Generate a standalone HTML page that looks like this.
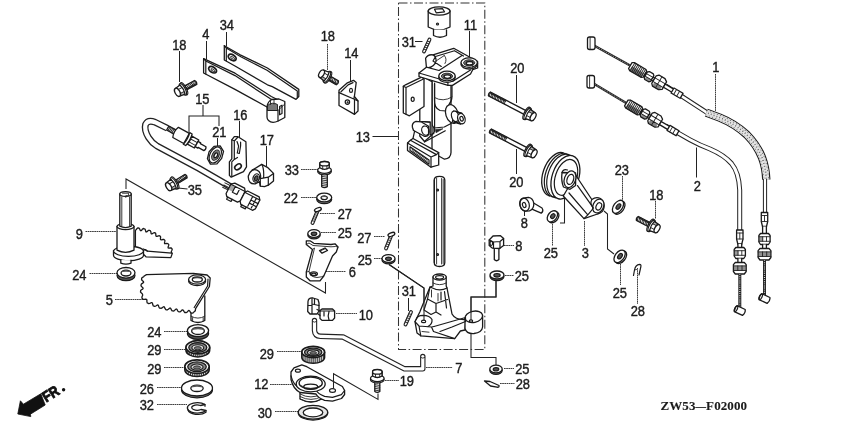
<!DOCTYPE html>
<html><head><meta charset="utf-8"><title>diagram</title>
<style>
html,body{margin:0;padding:0;background:#fff;}
body{width:850px;height:424px;overflow:hidden;}
svg{display:block;filter:blur(0.3px);}
text{font-family:"Liberation Sans",sans-serif;fill:#1c1c1c;stroke:#1c1c1c;stroke-width:0.4;}
.p{fill:#fff;stroke:#1a1a1a;stroke-width:1.3;stroke-linejoin:round;stroke-linecap:round;}
.pd{fill:#555;stroke:#1a1a1a;stroke-width:1.2;}
.n{fill:none;stroke:#1a1a1a;stroke-width:1.2;stroke-linejoin:round;stroke-linecap:round;}
.t{fill:none;stroke:#222;stroke-width:0.9;stroke-linecap:round;}
.ld{fill:none;stroke:#222;stroke-width:1.05;}
.dd{fill:none;stroke:#333;stroke-width:1.05;stroke-dasharray:9 2.5 1.5 2.5;}
.ds{fill:none;stroke:#333;stroke-width:0.95;stroke-dasharray:1.7 0.5;}
.k{fill:#222;stroke:#222;stroke-width:0.6;}
.g{fill:#777;stroke:#1a1a1a;stroke-width:0.9;}
</style></head><body>
<svg width="850" height="424" viewBox="0 0 850 424">
<rect width="850" height="424" fill="#fff"/>
<text transform="translate(172.2 49.5) scale(0.92 1)" font-size="14">18</text>
<text transform="translate(202.2 39) scale(0.92 1)" font-size="14">4</text>
<text transform="translate(219.7 30) scale(0.92 1)" font-size="14">34</text>
<text transform="translate(195.2 103.5) scale(0.92 1)" font-size="14">15</text>
<text transform="translate(233.2 119.5) scale(0.92 1)" font-size="14">16</text>
<text transform="translate(212.2 136.5) scale(0.92 1)" font-size="14">21</text>
<text transform="translate(259.7 145) scale(0.92 1)" font-size="14">17</text>
<text transform="translate(187.7 194.5) scale(0.92 1)" font-size="14">35</text>
<text transform="translate(284.7 175) scale(0.92 1)" font-size="14">33</text>
<text transform="translate(283.7 203) scale(0.92 1)" font-size="14">22</text>
<text transform="translate(75.7 239) scale(0.92 1)" font-size="14">9</text>
<text transform="translate(72.2 279.5) scale(0.92 1)" font-size="14">24</text>
<text transform="translate(105.7 305) scale(0.92 1)" font-size="14">5</text>
<text transform="translate(147.2 337) scale(0.92 1)" font-size="14">24</text>
<text transform="translate(147.2 355) scale(0.92 1)" font-size="14">29</text>
<text transform="translate(147.2 373.5) scale(0.92 1)" font-size="14">29</text>
<text transform="translate(139.7 393.5) scale(0.92 1)" font-size="14">26</text>
<text transform="translate(139.7 410) scale(0.92 1)" font-size="14">32</text>
<text transform="translate(259.7 358.5) scale(0.92 1)" font-size="14">29</text>
<text transform="translate(254.2 388.5) scale(0.92 1)" font-size="14">12</text>
<text transform="translate(257.7 418) scale(0.92 1)" font-size="14">30</text>
<text transform="translate(399.7 386) scale(0.92 1)" font-size="14">19</text>
<text transform="translate(337.7 218.5) scale(0.92 1)" font-size="14">27</text>
<text transform="translate(337.7 237.5) scale(0.92 1)" font-size="14">25</text>
<text transform="translate(348.7 277) scale(0.92 1)" font-size="14">6</text>
<text transform="translate(357.2 242.5) scale(0.92 1)" font-size="14">27</text>
<text transform="translate(357.7 264.5) scale(0.92 1)" font-size="14">25</text>
<text transform="translate(401.7 296) scale(0.92 1)" font-size="14">31</text>
<text transform="translate(358.7 320) scale(0.92 1)" font-size="14">10</text>
<text transform="translate(320.7 41) scale(0.92 1)" font-size="14">18</text>
<text transform="translate(344.2 58) scale(0.92 1)" font-size="14">14</text>
<text transform="translate(401.7 47) scale(0.92 1)" font-size="14">31</text>
<text transform="translate(463.7 30) scale(0.92 1)" font-size="14">11</text>
<text transform="translate(510.2 73.2) scale(0.92 1)" font-size="14">20</text>
<text transform="translate(355.7 142) scale(0.92 1)" font-size="14">13</text>
<text transform="translate(509.2 187) scale(0.92 1)" font-size="14">20</text>
<text transform="translate(515.2 251) scale(0.92 1)" font-size="14">8</text>
<text transform="translate(514.7 280.5) scale(0.92 1)" font-size="14">25</text>
<text transform="translate(543.7 258) scale(0.92 1)" font-size="14">25</text>
<text transform="translate(455.2 373) scale(0.92 1)" font-size="14">7</text>
<text transform="translate(515.2 373.5) scale(0.92 1)" font-size="14">25</text>
<text transform="translate(515.7 389) scale(0.92 1)" font-size="14">28</text>
<text transform="translate(614.7 175) scale(0.92 1)" font-size="14">23</text>
<text transform="translate(520.7 227.5) scale(0.92 1)" font-size="14">8</text>
<text transform="translate(581.7 257.5) scale(0.92 1)" font-size="14">3</text>
<text transform="translate(649.2 199.5) scale(0.92 1)" font-size="14">18</text>
<text transform="translate(612.7 297.5) scale(0.92 1)" font-size="14">25</text>
<text transform="translate(630.7 316) scale(0.92 1)" font-size="14">28</text>
<text transform="translate(712.2 72) scale(0.92 1)" font-size="14">1</text>
<text transform="translate(693.7 191) scale(0.92 1)" font-size="14">2</text>
<text x="660.5" y="409.9" font-size="13" textLength="86.5" lengthAdjust="spacing" style="font-family:'Liberation Serif',serif;font-weight:bold;stroke-width:0.1">ZW53<tspan font-size="10.5">&#8212;</tspan>F02000</text>
<path class="ld" d="M179.5 51L179.5 82"/>
<path class="ld" d="M206.5 41L206.5 59.5"/>
<path class="ld" d="M226.5 32L226.5 46.5"/>
<path class="ld" d="M203 105V116M189 132V116H219V126"/>
<path class="ld" d="M217.5 138L217.5 146"/>
<path class="ld" d="M239.5 121L239.5 140"/>
<path class="ld" d="M266.5 146L266.5 166.8"/>
<path class="ld" d="M178 188L187.5 189"/>
<path class="ds" d="M301 169.5L319 169.5"/>
<path class="ds" d="M301 197.5L317.5 197.5"/>
<path class="ds" d="M85.5 231.5L116 231.5"/>
<path class="ds" d="M89.5 273.5L117.5 273.5"/>
<path class="ds" d="M115 299.5L146 299.5"/>
<path class="ds" d="M164 331.5L187.5 331.5"/>
<path class="ds" d="M164 349.5L186 349.5"/>
<path class="ds" d="M164 367.5L185 367.5"/>
<path class="ds" d="M157 387.5L181 387.5"/>
<path class="ds" d="M157 404.5L187 404.5"/>
<path class="ds" d="M277 351.5L301 351.5"/>
<path class="ds" d="M270 384.5L295 384.5"/>
<path class="ds" d="M275 411.5L298 411.5"/>
<path class="ds" d="M385 380.5L399 380.5"/>
<path class="ds" d="M320 213.5L335 213.5"/>
<path class="ds" d="M321 232.5L336 232.5"/>
<path class="ds" d="M326 271.5L346 271.5"/>
<path class="ds" d="M374 236.5L385 236.5"/>
<path class="ds" d="M374 258.5L382 258.5"/>
<path class="ld" d="M408.5 298L408.5 311"/>
<path class="ds" d="M336 313.5L357 313.5"/>
<path class="ds" d="M327.5 44L327.5 70"/>
<path class="ld" d="M350.5 60L350.5 81.5"/>
<path class="ld" d="M415 41.5L422.5 41.5"/>
<path class="ld" d="M469.5 31L469.5 59"/>
<path class="ld" d="M516.5 75L516.5 103"/>
<path class="ld" d="M372.5 136.5L398 136.5"/>
<path class="ld" d="M516.5 149L516.5 174"/>
<path class="ds" d="M504 245.5L514 245.5"/>
<path class="ds" d="M505 275.5L514 275.5"/>
<path class="ds" d="M552.5 224L552.5 246"/>
<path class="ds" d="M426 367.5L452.5 367.5"/>
<path class="ds" d="M504 368.5L514 368.5"/>
<path class="ds" d="M500 383.5L514.5 383.5"/>
<path class="ds" d="M622.5 176L622.5 200"/>
<path class="ld" d="M524.5 210.5L524.5 216"/>
<path class="ds" d="M584.5 221L584.5 246"/>
<path class="ds" d="M655.5 201L655.5 219"/>
<path class="ds" d="M620.5 264L620.5 285"/>
<path class="ds" d="M637.5 268L637.5 304"/>
<path class="ds" d="M715.5 74L715.5 111"/>
<path class="ld" d="M696.5 147.5L696.5 177.5"/>
<path class="ld" d="M126 189V179L325.5 293V282"/>
<path class="ld" d="M389 264.5L424 288V321"/>
<path class="ld" d="M496 280V297H471V320"/>
<path class="ld" d="M471 333V357.5H496V365.5"/>
<path class="ld" d="M564.5 195V223H560"/>
<path class="ld" d="M604 211L607.5 214V249L614 254"/>
<path class="dd" d="M398.5 3H484.8V349.5H398.5Z"/>
<g transform="translate(184.5 88.5) rotate(-28.6)"><path class="p" d="M0 -2.2L12.7 -2.2Q14.3 0 12.7 2.2L0 2.2Z"/><path class="t" d="M11.7 -2.2L12.9 2.2M10.0 -2.2L11.2 2.2M8.3 -2.2L9.5 2.2M6.6 -2.2L7.8 2.2M4.9 -2.2L6.1 2.2M3.2 -2.2L4.4 2.2M1.5 -2.2L2.7 2.2"/><path d="M0.0 1.3000000000000003H12.3" stroke="#222" stroke-width="1.3" fill="none"/><ellipse class="p" cx="-0.6" cy="0" rx="2.3" ry="6.75"/><ellipse class="p" cx="-1.8" cy="0" rx="2.3" ry="6.45"/><path class="p" d="M-2.2 -5.25L-8 -4.45Q-10.6 0 -8 4.45L-2.2 5.25Q-0.6 0 -2.2 -5.25Z"/><ellipse class="p" cx="-8" cy="0" rx="2.4" ry="4.45"/><path class="t" d="M-2 -2.019230769230769L-6.2 -2.019230769230769M-2 2.3863636363636362L-6 2.3863636363636362"/><path d="M-2.2 2.3863636363636362L-6.5 2.3863636363636362L-8 4.45L-2.2 5.25Z" fill="#222" opacity="0.35"/></g>
<g transform="translate(175.5 182.5) rotate(-31.4)"><path class="p" d="M0 -2.0L12.2 -2.0Q13.8 0 12.2 2.0L0 2.0Z"/><path class="t" d="M11.2 -2.0L12.4 2.0M9.5 -2.0L10.7 2.0M7.8 -2.0L9.0 2.0M6.1 -2.0L7.3 2.0M4.4 -2.0L5.6 2.0M2.7 -2.0L3.9 2.0M1.0 -2.0L2.2 2.0"/><path d="M0 1.1H11.8" stroke="#222" stroke-width="1.3" fill="none"/><ellipse class="p" cx="-0.6" cy="0" rx="2.3" ry="6.75"/><ellipse class="p" cx="-1.8" cy="0" rx="2.3" ry="6.45"/><path class="p" d="M-2.2 -5.25L-8 -4.45Q-10.6 0 -8 4.45L-2.2 5.25Q-0.6 0 -2.2 -5.25Z"/><ellipse class="p" cx="-8" cy="0" rx="2.4" ry="4.45"/><path class="t" d="M-2 -2.019230769230769L-6.2 -2.019230769230769M-2 2.3863636363636362L-6 2.3863636363636362"/><path d="M-2.2 2.3863636363636362L-6.5 2.3863636363636362L-8 4.45L-2.2 5.25Z" fill="#222" opacity="0.35"/></g>
<g transform="translate(328.5 77.7) rotate(30)"><path class="p" d="M0 -2.2L10.2 -2.2Q11.8 0 10.2 2.2L0 2.2Z"/><path class="t" d="M9.2 -2.2L10.4 2.2M7.5 -2.2L8.7 2.2M5.8 -2.2L7.0 2.2M4.1 -2.2L5.3 2.2M2.4 -2.2L3.6 2.2M0.7 -2.2L1.9 2.2"/><path d="M0 1.3000000000000003H9.8" stroke="#222" stroke-width="1.3" fill="none"/><ellipse class="p" cx="-0.6" cy="0" rx="2.3" ry="6.5"/><ellipse class="p" cx="-1.8" cy="0" rx="2.3" ry="6.2"/><path class="p" d="M-2.2 -5.0L-8 -4.2Q-10.6 0 -8 4.2L-2.2 5.0Q-0.6 0 -2.2 -5.0Z"/><ellipse class="p" cx="-8" cy="0" rx="2.4" ry="4.2"/><path class="t" d="M-2 -1.923076923076923L-6.2 -1.923076923076923M-2 2.2727272727272725L-6 2.2727272727272725"/><path d="M-2.2 2.2727272727272725L-6.5 2.2727272727272725L-8 4.2L-2.2 5.0Z" fill="#222" opacity="0.35"/></g>
<g transform="translate(650 225) rotate(207.4)"><path class="p" d="M0 -2.2L14.2 -2.2Q15.8 0 14.2 2.2L0 2.2Z"/><path class="t" d="M13.2 -2.2L14.4 2.2M11.5 -2.2L12.7 2.2M9.8 -2.2L11.0 2.2M8.1 -2.2L9.3 2.2M6.4 -2.2L7.6 2.2M4.7 -2.2L5.9 2.2M3.0 -2.2L4.2 2.2M1.3 -2.2L2.5 2.2"/><path d="M0 1.3000000000000003H13.8" stroke="#222" stroke-width="1.3" fill="none"/><ellipse class="p" cx="-0.6" cy="0" rx="2.3" ry="6.75"/><ellipse class="p" cx="-1.8" cy="0" rx="2.3" ry="6.45"/><path class="p" d="M-2.2 -5.25L-8 -4.45Q-10.6 0 -8 4.45L-2.2 5.25Q-0.6 0 -2.2 -5.25Z"/><ellipse class="p" cx="-8" cy="0" rx="2.4" ry="4.45"/><path class="t" d="M-2 -2.019230769230769L-6.2 -2.019230769230769M-2 2.3863636363636362L-6 2.3863636363636362"/><path d="M-2.2 2.3863636363636362L-6.5 2.3863636363636362L-8 4.45L-2.2 5.25Z" fill="#222" opacity="0.35"/></g>
<g transform="translate(526 113) rotate(207.5)"><path class="p" d="M0 -2.1L41.2 -2.1Q42.8 0 41.2 2.1L0 2.1Z"/><path class="t" d="M40.2 -2.1L41.4 2.1M38.5 -2.1L39.7 2.1M36.8 -2.1L38.0 2.1M35.1 -2.1L36.3 2.1M33.4 -2.1L34.6 2.1M31.7 -2.1L32.9 2.1M30.0 -2.1L31.2 2.1M28.3 -2.1L29.5 2.1M26.6 -2.1L27.8 2.1M24.9 -2.1L26.1 2.1M23.2 -2.1L24.4 2.1"/><path d="M23 1.2000000000000002H40.8" stroke="#222" stroke-width="1.3" fill="none"/><ellipse class="p" cx="-0.6" cy="0" rx="2.3" ry="6.75"/><ellipse class="p" cx="-1.8" cy="0" rx="2.3" ry="6.45"/><path class="p" d="M-2.2 -5.25L-8 -4.45Q-10.6 0 -8 4.45L-2.2 5.25Q-0.6 0 -2.2 -5.25Z"/><ellipse class="p" cx="-8" cy="0" rx="2.4" ry="4.45"/><path class="t" d="M-2 -2.019230769230769L-6.2 -2.019230769230769M-2 2.3863636363636362L-6 2.3863636363636362"/><path d="M-2.2 2.3863636363636362L-6.5 2.3863636363636362L-8 4.45L-2.2 5.25Z" fill="#222" opacity="0.35"/></g>
<g transform="translate(527 150) rotate(207.5)"><path class="p" d="M0 -2.1L41.2 -2.1Q42.8 0 41.2 2.1L0 2.1Z"/><path class="t" d="M40.2 -2.1L41.4 2.1M38.5 -2.1L39.7 2.1M36.8 -2.1L38.0 2.1M35.1 -2.1L36.3 2.1M33.4 -2.1L34.6 2.1M31.7 -2.1L32.9 2.1M30.0 -2.1L31.2 2.1M28.3 -2.1L29.5 2.1M26.6 -2.1L27.8 2.1M24.9 -2.1L26.1 2.1M23.2 -2.1L24.4 2.1"/><path d="M23 1.2000000000000002H40.8" stroke="#222" stroke-width="1.3" fill="none"/><ellipse class="p" cx="-0.6" cy="0" rx="2.3" ry="6.75"/><ellipse class="p" cx="-1.8" cy="0" rx="2.3" ry="6.45"/><path class="p" d="M-2.2 -5.25L-8 -4.45Q-10.6 0 -8 4.45L-2.2 5.25Q-0.6 0 -2.2 -5.25Z"/><ellipse class="p" cx="-8" cy="0" rx="2.4" ry="4.45"/><path class="t" d="M-2 -2.019230769230769L-6.2 -2.019230769230769M-2 2.3863636363636362L-6 2.3863636363636362"/><path d="M-2.2 2.3863636363636362L-6.5 2.3863636363636362L-8 4.45L-2.2 5.25Z" fill="#222" opacity="0.35"/></g>
<path class="p" d="M319.8 163.5V167.8Q324.5 170.8 329.2 167.8V163.5"/>
<ellipse class="p" cx="324.5" cy="163.5" rx="4.7" ry="2.2"/>
<path class="t" d="M322.7 165.60000000000002V169.3M326.9 165.3V168.9"/>
<path class="p" d="M321.7 172.8V186.8Q324.5 188.4 327.3 186.8V172.8"/>
<path class="t" d="M321.7 185.4L327.3 186.2M321.7 183.6L327.3 184.4M321.7 181.8L327.3 182.6M321.7 180.0L327.3 180.8M321.7 178.2L327.3 179.0M321.7 176.4L327.3 177.2"/>
<ellipse class="p" cx="324.5" cy="171.5" rx="6.8" ry="3.3"/>
<ellipse class="p" cx="324.5" cy="170.10000000000002" rx="6.8" ry="3.3"/>
<path class="p" d="M319.8 167.8Q324.5 170.8 329.2 167.8V164.3H319.8Z"/>
<path class="t" d="M322.7 165.60000000000002V169.3M326.9 165.3V168.9"/>
<ellipse class="p" cx="324.5" cy="163.70000000000002" rx="4.7" ry="2.2"/>
<path class="p" d="M372.6 371.7V376.0Q377.3 379.0 382.0 376.0V371.7"/>
<ellipse class="p" cx="377.3" cy="371.7" rx="4.7" ry="2.2"/>
<path class="t" d="M375.5 373.8V377.5M379.7 373.5V377.1"/>
<path class="p" d="M374.8 381.0V391.5Q377.3 393.1 379.8 391.5V381.0"/>
<path class="t" d="M374.8 390.1L379.8 390.9M374.8 388.3L379.8 389.1M374.8 386.5L379.8 387.3M374.8 384.7L379.8 385.5"/>
<ellipse class="p" cx="377.3" cy="379.7" rx="6.8" ry="3.3"/>
<ellipse class="p" cx="377.3" cy="378.3" rx="6.8" ry="3.3"/>
<path class="p" d="M372.6 376.0Q377.3 379.0 382.0 376.0V372.5H372.6Z"/>
<path class="t" d="M375.5 373.8V377.5M379.7 373.5V377.1"/>
<ellipse class="p" cx="377.3" cy="371.9" rx="4.7" ry="2.2"/>
<g transform="translate(126 272.8) rotate(0)"><ellipse cx="0" cy="2.6" rx="9" ry="5.3" fill="#555" stroke="#1a1a1a" stroke-width="1.2"/><ellipse class="p" cx="0" cy="0" rx="9" ry="5.3"/><ellipse class="p" cx="0" cy="0.3" rx="4.95" ry="2.915"/><path d="M-4.95 0.3A4.95 2.915 0 0 1 4.95 0.3A4.95 1.31175 0 0 0 -4.95 0.3Z" fill="#555"/></g>
<g transform="translate(198 330.6) rotate(0)"><ellipse cx="0" cy="2.8" rx="10.6" ry="6" fill="#555" stroke="#1a1a1a" stroke-width="1.2"/><ellipse class="p" cx="0" cy="0" rx="10.6" ry="6"/><ellipse class="p" cx="0" cy="0.3" rx="6.359999999999999" ry="3.5999999999999996"/><path d="M-6.359999999999999 0.3A6.359999999999999 3.5999999999999996 0 0 1 6.359999999999999 0.3A6.359999999999999 1.6199999999999999 0 0 0 -6.359999999999999 0.3Z" fill="#555"/></g>
<g transform="translate(197 388) rotate(0)"><ellipse cx="0" cy="1.8" rx="15.5" ry="8" fill="#777" stroke="#1a1a1a" stroke-width="1.2"/><ellipse class="p" cx="0" cy="0" rx="15.5" ry="8"/><ellipse class="p" cx="0" cy="0.3" rx="6.2" ry="3.2"/><path d="M-6.2 0.3A6.2 3.2 0 0 1 6.2 0.3A6.2 1.4400000000000002 0 0 0 -6.2 0.3Z" fill="#555"/></g>
<g transform="translate(324.2 197.5) rotate(0)"><ellipse cx="0" cy="1.8" rx="7.5" ry="4.4" fill="#777" stroke="#1a1a1a" stroke-width="1.2"/><ellipse class="p" cx="0" cy="0" rx="7.5" ry="4.4"/><ellipse class="p" cx="0" cy="0.3" rx="3.15" ry="1.848"/><path d="M-3.15 0.3A3.15 1.848 0 0 1 3.15 0.3A3.15 0.8316 0 0 0 -3.15 0.3Z" fill="#555"/></g>
<g transform="translate(314 233.5) rotate(0)"><ellipse cx="0" cy="1.6" rx="6.2" ry="3.8" fill="#777" stroke="#1a1a1a" stroke-width="1.2"/><ellipse class="p" cx="0" cy="0" rx="6.2" ry="3.8"/><ellipse class="pd" cx="0" cy="0.3" rx="2.79" ry="1.71"/></g>
<g transform="translate(388.5 258.5) rotate(0)"><ellipse cx="0" cy="1.6" rx="6.5" ry="3.8" fill="#777" stroke="#1a1a1a" stroke-width="1.2"/><ellipse class="p" cx="0" cy="0" rx="6.5" ry="3.8"/><ellipse class="pd" cx="0" cy="0.3" rx="2.9250000000000003" ry="1.71"/></g>
<g transform="translate(497 275) rotate(0)"><ellipse cx="0" cy="1.6" rx="7" ry="4" fill="#777" stroke="#1a1a1a" stroke-width="1.2"/><ellipse class="p" cx="0" cy="0" rx="7" ry="4"/><ellipse class="pd" cx="0" cy="0.3" rx="3.15" ry="1.8"/></g>
<g transform="translate(496 369) rotate(0)"><ellipse cx="0" cy="1.6" rx="6.2" ry="3.8" fill="#777" stroke="#1a1a1a" stroke-width="1.2"/><ellipse class="p" cx="0" cy="0" rx="6.2" ry="3.8"/><ellipse class="pd" cx="0" cy="0.3" rx="2.79" ry="1.71"/></g>
<g transform="translate(197.8 347.3)"><path d="M-11.9 0V3A11.9 6.6 0 0 0 11.9 3V0" fill="#ddd" stroke="#1a1a1a" stroke-width="1.5"/><path class="t" d="M-10.6 3.8V5.7M-8.5 5.4V7.3M-6.4 6.4V8.3M-4.2 7.0V8.9M-2.1 7.3V9.2M0.0 7.4V9.3M2.1 7.3V9.2M4.2 7.0V8.9M6.4 6.4V8.3M8.5 5.4V7.3M10.6 3.8V5.7"/><ellipse cx="0" cy="0" rx="11.9" ry="6.6" fill="#fff" stroke="#1a1a1a" stroke-width="1.7"/><ellipse cx="0" cy="0.2" rx="9.044" ry="4.752" fill="#8a8a8a" stroke="#1a1a1a" stroke-width="1.3"/><ellipse cx="0" cy="0.5" rx="5.95" ry="3.036" fill="#ddd" stroke="#1a1a1a" stroke-width="1.1"/><ellipse cx="0" cy="0.9" rx="3.57" ry="1.5839999999999999" fill="#777" stroke="#1a1a1a" stroke-width="0.8"/></g>
<g transform="translate(197 366.6)"><path d="M-12.2 0V3.2A12.2 6.8 0 0 0 12.2 3.2V0" fill="#ddd" stroke="#1a1a1a" stroke-width="1.5"/><path class="t" d="M-10.9 3.9V6.0M-8.7 5.6V7.7M-6.5 6.5V8.6M-4.4 7.2V9.3M-2.2 7.5V9.6M0.0 7.6V9.7M2.2 7.5V9.6M4.4 7.2V9.3M6.5 6.5V8.6M8.7 5.6V7.7M10.9 3.9V6.0"/><ellipse cx="0" cy="0" rx="12.2" ry="6.8" fill="#fff" stroke="#1a1a1a" stroke-width="1.7"/><ellipse cx="0" cy="0.2" rx="9.272" ry="4.896" fill="#8a8a8a" stroke="#1a1a1a" stroke-width="1.3"/><ellipse cx="0" cy="0.5" rx="6.1" ry="3.128" fill="#ddd" stroke="#1a1a1a" stroke-width="1.1"/><ellipse cx="0" cy="0.9" rx="3.6599999999999997" ry="1.632" fill="#777" stroke="#1a1a1a" stroke-width="0.8"/></g>
<g transform="translate(313.2 352)"><path d="M-11.4 0V5.6A11.4 5.6 0 0 0 11.4 5.6V0" fill="#ddd" stroke="#1a1a1a" stroke-width="1.5"/><path class="t" d="M-10.2 3.3V7.8M-8.1 4.7V9.2M-6.1 5.5V10.0M-4.1 6.0V10.5M-2.0 6.3V10.8M0.0 6.4V10.9M2.0 6.3V10.8M4.1 6.0V10.5M6.1 5.5V10.0M8.1 4.7V9.2M10.2 3.3V7.8"/><ellipse cx="0" cy="0" rx="11.4" ry="5.6" fill="#fff" stroke="#1a1a1a" stroke-width="1.7"/><ellipse cx="0" cy="0.2" rx="8.664" ry="4.032" fill="#8a8a8a" stroke="#1a1a1a" stroke-width="1.3"/><ellipse cx="0" cy="0.5" rx="5.7" ry="2.576" fill="#ddd" stroke="#1a1a1a" stroke-width="1.1"/><ellipse cx="0" cy="0.9" rx="3.42" ry="1.3439999999999999" fill="#777" stroke="#1a1a1a" stroke-width="0.8"/></g>
<path class="p" d="M205 404.5A10 5.2 0 1 0 206 410.5L201 409.5A5.5 2.6 0 1 1 200.5 405.5Z"/>
<path class="n" d="M205 404.5L205 406.3M206 410.5V412.3A10 5.2 0 0 1 188 410"/>
<ellipse class="p" cx="313" cy="413" rx="14.7" ry="7.1"/>
<ellipse cx="313" cy="412.2" rx="14.7" ry="6.9" fill="#e6e6e6" stroke="#1a1a1a" stroke-width="1.3"/>
<ellipse class="p" cx="313" cy="412.4" rx="9.8" ry="4.4"/>
<path class="p" d="M135.4 247L135.4 230.2L135.4 230.2L136.1 229.8L136.9 228.7L137.7 227.9L138.4 228.0L139.1 228.1L139.7 229.0L140.2 230.2L140.9 230.8L141.6 230.4L142.4 229.2L143.2 228.5L144.3 228.8L145.0 229.0L145.4 230.0L145.7 231.3L146.2 232.0L147.0 231.7L148.0 230.8L148.9 230.2L149.6 230.5L150.2 230.7L150.9 231.8L151.0 233.1L151.4 233.9L152.2 233.8L153.4 233.0L154.3 232.6L155.0 232.9L155.6 233.2L155.8 234.2L155.9 235.6L156.3 236.4L157.1 236.4L158.4 235.9L159.4 235.7L160.0 236.1L160.5 236.5L160.6 237.6L160.4 238.9L160.7 239.7L161.5 239.8L162.9 239.5L163.9 239.4L164.4 239.9L164.9 240.4L164.8 241.4L164.5 242.8L164.6 243.6L165.4 243.7L166.9 243.5L167.9 243.6L168.4 244.1L168.8 244.7L168.6 245.7L168.1 247.0L168.1 247.8L168.9 248.1L170.3 247.9L171.4 248.0L171.8 248.6L172.2 249.2L171.9 250.2L171.3 251.5L171.3 252.3L172.3 253.4L170.8 257.6L146 256.8L141 252Z"/>
<path class="n" d="M171.8 253.2L147.4 251.2L143.5 249"/>
<path class="p" d="M113.5 250.8V255.2A15 5.6 0 0 0 143.5 255.2V250.8"/>
<path class="p" d="M113.5 250.8A15 5.6 0 0 0 143.5 250.8A15 5.6 0 0 0 134 246.5L117 248A15 5.6 0 0 0 113.5 250.8Z"/>
<path class="n" d="M143.5 250.8Q145 248 147.4 251.2"/>
<path class="p" d="M120.8 260V263.2Q126 265.2 131 263.2V260.2"/>
<path class="p" d="M117 226.5V250.2Q125.5 254.6 134 250.2V226.5"/>
<ellipse class="p" cx="125.5" cy="226.5" rx="8.5" ry="3.1"/>
<path class="p" d="M119.8 194V226.2Q125.5 229 131.2 226.2V194"/>
<ellipse class="p" cx="125.5" cy="194" rx="5.7" ry="2.4"/>
<path class="t" d="M122.5 193.2H128.6V195.7H125.8V197.4"/>
<path class="t" d="M121.8 197V226M129.6 197V226"/>
<path class="p" d="M191 300V320.5Q198 324.5 204.8 320.5V296"/>
<path class="t" d="M191 316.2Q198 320.2 204.8 316.2"/>
<path class="t" d="M192.6 317.6V321.3M203.2 317.6V321.3"/>
<path class="p" d="M146.5 274.6L144.2 276.0L143.7 276.7L142.5 277.4L141.7 278.1L141.6 278.9L141.6 279.7L142.3 280.5L143.3 281.4L143.7 282.2L143.1 282.9L142.0 283.6L141.2 284.3L141.1 285.1L141.0 285.8L141.7 286.7L142.7 287.5L143.1 288.3L142.6 289.1L141.5 289.7L140.6 290.4L140.6 291.2L140.5 292.0L141.2 292.8L142.2 293.7L142.6 294.5L142.6 294.5L142.6 295.4L142.0 296.8L141.9 298.0L142.5 298.7L143.1 299.4L144.3 299.4L145.7 299.2L146.6 299.3L146.9 300.2L146.9 301.6L147.2 302.8L148.0 303.2L148.7 303.6L149.8 303.4L151.1 302.7L152.0 302.7L152.5 303.4L152.8 304.8L153.3 305.9L154.0 306.1L154.8 306.4L155.8 306.0L157.0 305.2L157.9 305.0L158.5 305.7L158.9 307.0L159.4 308.0L160.2 308.2L161.0 308.4L162.0 307.9L163.1 307.0L164.0 306.7L164.6 307.4L165.1 308.7L165.8 309.6L166.5 309.8L167.3 309.9L168.3 309.3L169.3 308.4L170.1 308.0L170.8 308.6L171.4 309.9L172.1 310.8L172.9 310.9L173.7 311.1L174.6 310.4L175.5 309.4L176.4 309.0L177.1 309.6L177.7 310.9L178.5 311.7L179.2 311.8L180.0 311.9L180.9 311.3L181.8 310.2L182.7 309.8L183.4 310.4L184.1 311.6L184.8 312.5L185.6 312.5L186.4 312.6L187.3 311.9L188.2 310.8L189.0 310.4L189.7 311.0L190.4 312.2L191.2 313.0L192.0 313.1L192.8 313.1L193.6 312.4L194.5 311.3L195.3 310.9L195.6 308.7L209.4 286.5L210.2 278L207.1 275L193.3 273.4Z"/>
<path class="n" d="M208 279L207.6 286L194.2 307.5"/>
<ellipse class="p" cx="197.1" cy="281" rx="8.5" ry="4.6"/>
<ellipse class="p" cx="197.1" cy="279.5" rx="8.5" ry="4.6"/>
<ellipse class="p" cx="197.3" cy="279.5" rx="5" ry="2.5"/>
<path d="M192.3 279.5A5 2.5 0 0 1 202.3 279.5A5 1.2 0 0 0 192.3 279.5Z" fill="#444"/>
<path class="p" d="M224.3 45.7L240.2 54.8L267.4 68L298.8 89.4V96.5L296 99.4L277.8 89.6Q272 86 267.4 84.8L235 66L224.3 60Z"/>
<path class="n" d="M226.3 48L240.8 56.8L267 70.2L297.3 91V97.8M224.3 45.7L226.3 48V60.8"/>
<ellipse cx="232.2" cy="57.5" rx="4.3" ry="2.7" transform="rotate(32 232.2 57.5)" fill="#fff" stroke="#1a1a1a" stroke-width="1.8"/>
<ellipse class="t" cx="232.6" cy="57.9" rx="2.3" ry="0.9" transform="rotate(32 232.6 57.9)"/>
<path class="p" d="M203.6 58.6L235 73.2L271.3 96.5L284.3 103L267 107L235 89.4L203.6 73Z"/>
<path class="n" d="M205.8 61L235 75.6L270 98.6L279 103.5M203.6 58.6L205.8 61V74"/>
<ellipse cx="212.6" cy="69.7" rx="4.3" ry="2.7" transform="rotate(32 212.6 69.7)" fill="#fff" stroke="#1a1a1a" stroke-width="1.8"/>
<ellipse class="t" cx="213" cy="70.1" rx="2.3" ry="0.9" transform="rotate(32 213 70.1)"/>
<path class="p" d="M267 106.5Q268 101 272 99.5L279 99L284.8 101.5V117.5L278.2 121Q272 124 268.5 120.5Q267 119 267 117Z"/>
<path class="n" d="M267.5 110.5H278V121"/>
<path class="t" d="M278 110.5L284.8 104"/>
<path class="g" d="M267.5 105.5Q272 101.5 277.5 104.5V110.5H267.5Z"/>
<path class="n" d="M279.6 106.5L282 105.2V113.5L279.6 114.8Z"/>
<path class="t" d="M270.5 104.5V100.8M274 104V100"/>
<path class="p" d="M339 90.2L347.4 82.8L353.5 80.3L356.2 82.5L354.4 96.5L358 101V111L354.5 114.4L339 105.5Z"/>
<path class="n" d="M339 92.6L353.8 99L358 101M354.5 99.5V114.2M341 91.8L348.1 84.9L353 82.6M353.8 99L354.4 96.5"/>
<circle class="n" cx="347.4" cy="102.1" r="2.2"/>
<circle class="k" cx="347.6" cy="102.3" r="0.8"/>
<ellipse class="n" cx="351" cy="90.4" rx="1.5" ry="2"/>
<path class="p" d="M231.8 139.8L234.3 136.7L238 136.7L245.9 141.7L246.5 166.8L243.5 171.7L231.2 177.2L229.4 175.4V161.9L231.8 158.8Z"/>
<path class="n" d="M231.8 139.8L234.3 141V159.4L231.8 161.9V176.2M234.3 141L237.5 137.5M234.3 159.4L237.5 157.5"/>
<path class="n" d="M237 141.5L238.6 146L237.3 153L239.3 153.5L240.6 146L240.6 142.2"/>
<ellipse cx="238" cy="166.8" rx="3.6" ry="2.4" transform="rotate(-35 238 166.8)" fill="#fff" stroke="#1a1a1a" stroke-width="1.6"/>
<path class="p" d="M248.3 176Q249.5 172 252.3 170.1L261.7 164.4L267.4 167.3L273.5 173.4V181L268.3 185.2L264.5 186.6L260.3 186.1L259.5 181.6L255.1 183.8Q251.5 184 250.2 182.5Q248 180 248.3 176Z"/>
<path class="n" d="M261.7 164.4Q264.2 168 263.6 177.8M260.3 178.6L268.3 177.2L273.5 173.4M268.3 177.2V185.2M260.3 178.6V186.1M252.3 170.1Q256 168.5 259 171.5Q261.5 174.5 260.3 178.6"/>
<ellipse class="n" cx="256.2" cy="178" rx="3.1" ry="4.3" transform="rotate(20 256.2 178)"/>
<ellipse class="pd" cx="256.2" cy="178.3" rx="1.6" ry="2.6" transform="rotate(20 256.2 178.3)"/>
<path d="M167.5 128.3L155 122.2Q148 119.5 145.5 124.5Q144 130 148.5 137.5Q151.5 142.5 157 146L199 168.5L231 187" fill="none" stroke="#222" stroke-width="6.8" stroke-linecap="butt" stroke-linejoin="round"/>
<path d="M167.5 128.3L155 122.2Q148 119.5 145.5 124.5Q144 130 148.5 137.5Q151.5 142.5 157 146L199 168.5L231 187" fill="none" stroke="#fff" stroke-width="4.2" stroke-linecap="butt" stroke-linejoin="round"/>
<g transform="translate(169.5 129) rotate(29)"><path class="p" d="M-2 -2.3H6V2.3H-2Z"/><path class="t" d="M-0.5 -2.3V2.3M1 -2.3V2.3M2.5 -2.3V2.3M4 -2.3V2.3"/><path class="p" d="M7 -5.8H19.5V5.8H7Q4.5 0 7 -5.8Z"/><path class="p" d="M19.5 -6.6H22.2Q24 0 22.2 6.6H19.5Q21.2 0 19.5 -6.6Z"/><path class="p" d="M23 -4.6H31V4.6H23Q24 0 23 -4.6Z"/><path class="t" d="M23.3 -1.5H31M23.3 1.8H31"/><path class="p" d="M31 -3H34V-2.2H40.5Q42 0 40.5 2.2H34V3H31Z"/></g>
<g transform="translate(215.3 155) rotate(-62)"><path class="p" d="M-10.3 0L-7 -5.2L0 -7L7 -5.2L10.3 0L7 5.6L0 7.2L-7 5.6Z"/><ellipse class="n" cx="0" cy="0" rx="8.6" ry="5.3"/><ellipse class="g" cx="0" cy="0.3" rx="5.6" ry="3.3"/><ellipse class="p" cx="0" cy="0.6" rx="2.6" ry="1.5"/></g>
<g transform="translate(229.3 187.3) rotate(27)"><path class="t" d="M-6 -2H0.5M-6 0.5H0.5M-6 3H0.5"/><path class="p" d="M0 -3.5L3 -6.2H14L16 -3.5V7L14 9.5H2L0 7Z"/><path class="n" d="M0 -3.5H16M3 9.5V11.8H8V9.5M5 -3.5V3H10V-3.5"/><path d="M0.5 -3H5V2.5H0.5Z" fill="#222" opacity="0.4"/><path class="p" d="M16 -2.5L18 -5H31L33 -2.5V7.5L31 10H18L16 7.5Z"/><path class="n" d="M16 -2.5H33M25 -2.5V8.5M29 -2.5V8.5M19 10V12H24V10M25 1.5H33M25 5H33"/></g>
<path class="p" d="M306.3 240.8L310 240.8L313.8 243.3L331 244.5L335 243.8L338 247L336.3 252L332.5 256L323.8 276L320 280.8H310L306.3 277V272L312.5 249.5L306.3 244.5Z"/>
<path class="t" d="M306.3 244.5L309 243L313 245.5L331 246.8L335.5 246.5L338 247M312.5 249.5L314.5 248L309 271.5L306.3 272M309 271.5Q310 277 317 277.5Q322 277 323.8 276"/>
<path class="p" d="M319.5 250.5L325 248L327.5 250.5L322 253.2Z"/>
<path class="t" d="M320.5 250.8L325 248.8"/>
<ellipse class="p" cx="313.8" cy="273.8" rx="3.6" ry="2"/>
<ellipse class="n" cx="313.8" cy="274.2" rx="2.3" ry="1.1"/>
<path class="p" d="M308 301.5Q308.5 297.5 313 298L318 299.5L319 303V311L317 314H310L307.7 311.5Z"/>
<path class="n" d="M312 298.5V313.5M308.3 305.5H312M312 304L319 305.5M314.5 299V303.5"/>
<path class="p" d="M320 310.5L322 309H332.5L334.6 311V318L332.5 320.4H322L320 318.5Z"/>
<path class="n" d="M320 311H334M329 311.5Q327.5 315.5 329 320M324 312V316"/>
<path class="n" d="M317 309.5L320 311M317.5 313.5L320 315.5"/>
<path d="M314.5 320.5V330.5Q314.8 336 320.5 336.3L343 337L404.5 368.8H422.8V356.5" fill="none" stroke="#222" stroke-width="5.4" stroke-linecap="round" stroke-linejoin="round"/>
<path d="M314.5 320.5V330.5Q314.8 336 320.5 336.3L343 337L404.5 368.8H422.8V356.5" fill="none" stroke="#fff" stroke-width="3.2" stroke-linecap="round" stroke-linejoin="round"/>
<path class="t" d="M312.5 321.5Q314.5 323 316.5 321.5M420.8 357.5Q422.8 359 424.8 357.5"/>
<path class="p" d="M300 391V399Q311 405 321.8 399V391Z"/>
<path class="t" d="M300 394Q311 400 321.8 394M300 396.5Q311 402.5 321.8 396.5M300 399Q311 405 321.8 399"/>
<path class="p" d="M291 372L294 367.8L301.8 364.8L306.8 366.7L342.4 386.5L344.6 390.5V394.5L341.5 398.5L332.5 401.2L324.6 400.4Q318 398 316 394L300 392.5Q293 388.5 291 379.5Z"/>
<path class="n" d="M291 375.8Q293 384.5 300 388.5L316 390Q318 394 324.6 396.4L332.5 397.4L341.4 394.6L344.6 390.5"/>
<ellipse class="p" cx="310.7" cy="384" rx="14.5" ry="7.8"/>
<ellipse class="p" cx="310.7" cy="383" rx="11.6" ry="6"/>
<path class="t" d="M300.5 385.5Q310.7 391.5 321 385.5"/>
<ellipse class="n" cx="310.7" cy="386.8" rx="7" ry="2.6"/>
<ellipse class="n" cx="297.9" cy="370.7" rx="2.5" ry="1.5"/>
<ellipse class="n" cx="332.5" cy="390.5" rx="3" ry="1.9"/>
<path class="ld" d="M333.5 388.5V373.7L378 399.4V393.5"/>
<path d="M317.5 211L312.5 223" fill="none" stroke="#222" stroke-width="3.9" stroke-linecap="round"/>
<path d="M317.5 211L312.5 223" fill="none" stroke="#fff" stroke-width="1.6" stroke-linecap="round"/>
<path class="t" d="M315.5 212.7L317.9 213.3M314.6 214.7L317.0 215.3M313.8 216.7L316.2 217.3M313.0 218.7L315.4 219.3M312.1 220.7L314.5 221.3"/>
<ellipse class="p" cx="317.9" cy="209.6" rx="3.6" ry="1.7" transform="rotate(-20 317.9 209.6)"/>
<path d="M391 236L386 248.5" fill="none" stroke="#222" stroke-width="3.9" stroke-linecap="round"/>
<path d="M391 236L386 248.5" fill="none" stroke="#fff" stroke-width="1.6" stroke-linecap="round"/>
<path class="t" d="M389.0 237.8L391.4 238.4M388.1 239.9L390.5 240.5M387.3 241.9L389.7 242.6M386.5 244.0L388.9 244.6M385.6 246.1L388.0 246.7"/>
<ellipse class="p" cx="391.4" cy="234.4" rx="3.6" ry="1.7" transform="rotate(-20 391.4 234.4)"/>
<path d="M429.5 39.5L424 51.5" fill="none" stroke="#222" stroke-width="3.9" stroke-linecap="round"/>
<path d="M429.5 39.5L424 51.5" fill="none" stroke="#fff" stroke-width="1.6" stroke-linecap="round"/>
<path class="t" d="M427.4 41.2L429.8 41.8M426.5 43.2L428.9 43.8M425.6 45.2L427.9 45.8M424.6 47.2L427.0 47.8M423.7 49.2L426.1 49.8"/>
<path d="M411 312L405.5 324.5" fill="none" stroke="#222" stroke-width="3.9" stroke-linecap="round"/>
<path d="M411 312L405.5 324.5" fill="none" stroke="#fff" stroke-width="1.6" stroke-linecap="round"/>
<path class="t" d="M408.9 313.8L411.3 314.4M408.0 315.9L410.4 316.5M407.1 317.9L409.4 318.6M406.1 320.0L408.5 320.6M405.2 322.1L407.6 322.7"/>
<path class="p" d="M484.5 381L490 381.5L499 385.5Q499.5 387.5 497 387.2L490.5 386Z"/>
<path class="n" d="M633.5 275.5L634.5 270Q635.5 264.5 639.5 264.3Q641.5 264.5 640.8 267L639 275"/>
<path class="t" d="M634.5 270L636.5 269.5"/>
<path class="p" d="M428.2 11V27Q439 33 450 27V11Z"/>
<path class="p" d="M433.5 29.5V35.5Q440 39 446.5 35.5V29.8"/>
<ellipse class="p" cx="439.1" cy="11" rx="10.9" ry="4.2"/>
<path class="n" d="M434.5 9.2L442.5 8.6L444.5 11.8L436.2 12.8Z"/>
<circle class="n" cx="437.5" cy="24" r="1"/>
<path class="p" d="M434.2 180Q434.2 176.3 439.5 176.3Q444.8 176.3 444.8 180V262.5Q444.8 266.5 439.5 266.5Q434.2 266.5 434.2 262.5Z"/>
<path class="n" d="M434.4 180V262.5"/>
<path class="t" d="M436.6 178V264M441.6 178.5V264M443.2 179.5V263.5"/>
<circle class="n" cx="437.6" cy="190" r="0.9"/>
<circle class="n" cx="437.6" cy="254.5" r="0.9"/>
<path class="p" d="M432 80V152L438.7 156L444.5 159.2Q450.8 158.5 451 152.5V84Z"/>
<path class="p" d="M410.4 140.3L413 138.5L438.7 152.6V165L431 167.2L407.5 150.5V143Z"/>
<path class="n" d="M410.4 140.3L436.5 154.6L438.7 152.6M436.5 154.6L431 157V167.2M407.5 143L431 157"/>
<path class="n" d="M410 146.8L429 160V164.2L410 150.6Z"/>
<path class="t" d="M412 149L427.5 160M412 150.6L427.5 161.8"/>
<path class="p" d="M419.8 121L419.8 136L424.5 141.5L434 133V128L430.2 122Z"/>
<path class="n" d="M424.5 142L445.3 130.8M434 128L444.3 127L451 123.5"/>
<path class="k" d="M435.5 129.5L443 128.7L436 132.8Z"/>
<path class="p" d="M421.6 76L432 81.7V134L430.2 135V122L419.8 121.4V107.5L421.6 106Z"/>
<path class="n" d="M434.6 83V131.5"/>
<path class="t" d="M432 134L434.6 131.5"/>
<path class="p" d="M412.4 127.2Q411.6 123 416 121.4L421 121.8L428.6 126.2V134.6Q427 137.2 423.5 135.8L413.5 130.5Z"/>
<ellipse class="n" cx="425.4" cy="130.6" rx="3.6" ry="4.7" transform="rotate(-20 425.4 130.6)"/>
<path class="n" d="M413 138.5L414.6 131.2"/>
<path class="n" d="M434.5 84V100Q434 108 440 110.5L446 111M452 84V96Q452 101 449 104.5"/>
<path class="t" d="M434.5 97.5Q443 102.5 452 97"/>
<ellipse class="p" cx="452" cy="114" rx="6.2" ry="9.6" transform="rotate(-18 452 114)"/>
<path class="p" d="M453.5 111.2L461.8 113.4L460.8 124L452.5 121.8Z"/>
<ellipse class="p" cx="455.2" cy="116.3" rx="3.6" ry="5.4" transform="rotate(-18 455.2 116.3)"/>
<path class="n" d="M455.8 111.2L462 113.2M454.5 121.4L460.6 123.8"/>
<ellipse class="p" cx="461.4" cy="118.6" rx="3.6" ry="5.3" transform="rotate(-18 461.4 118.6)"/>
<ellipse class="n" cx="461.6" cy="118.8" rx="1.6" ry="2.4" transform="rotate(-18 461.6 118.8)"/>
<path class="p" d="M403.3 86.2L405.5 84.8L421.5 77.2L424 78.8V106.5L409.4 115.8L403.3 113Z"/>
<path class="n" d="M403.3 86.2L406 87.5L424 78.8M406 87.5V114.2"/>
<ellipse class="n" cx="412.7" cy="99.3" rx="1.5" ry="2.1"/>
<path class="p" d="M419 73L426.4 67.2L425.6 58.2Q428 54 433 54.9L453.7 48.3L477.6 61.5V68L472.7 69.7L470.5 74L452.5 85.4L447.9 85.4L419 76.5Z"/>
<path class="n" d="M419 73L447.9 81.5L452.5 81.5L470.5 70M447.9 81.5V85.4"/>
<path class="n" d="M426.4 67.2L439 70.5L462 55.5M435.5 56.5L454.5 50.7L463.5 56M435.5 56.5L433 61L441.3 66.4M433 54.9Q436.5 56.5 436 61.5Q434.5 66.5 428.5 67.6"/>
<path class="t" d="M444.3 55.5Q447.5 59 445 63.5M444.3 55.5L436 61"/>
<ellipse class="p" cx="469.2" cy="64.2" rx="8.2" ry="4.8"/>
<ellipse class="p" cx="469.2" cy="62.6" rx="8.2" ry="4.8"/>
<ellipse class="g" cx="469.2" cy="62.800000000000004" rx="5.6" ry="3"/>
<ellipse class="p" cx="469.59999999999997" cy="63.2" rx="3.4" ry="1.7"/>
<ellipse class="p" cx="447" cy="77.6" rx="8.2" ry="4.8"/>
<ellipse class="p" cx="447" cy="76" rx="8.2" ry="4.8"/>
<ellipse class="g" cx="447" cy="76.2" rx="5.6" ry="3"/>
<ellipse class="p" cx="447.4" cy="76.6" rx="3.4" ry="1.7"/>
<path class="t" d="M472.7 69.7V65.5M476 66.5L477.6 64"/>
<path class="p" d="M433 277V286L430 287L419.8 312L415 321.6L417 333L420.8 335.8L454.7 338.6L460.4 331L465 330L466 318L464 319.7Q455 319.5 452 314L447 288L446.2 286V277Z"/>
<path class="p" d="M465 318.5V328.5Q466.5 334 474 333.5Q482 332.5 482.6 327V315.5"/>
<ellipse class="p" cx="473.8" cy="316.8" rx="8.9" ry="5.6" transform="rotate(-12 473.8 316.8)"/>
<ellipse class="n" cx="471" cy="321" rx="1.7" ry="1.1"/>
<path class="n" d="M434 326.5L465.5 317.5L465.5 321.5L452 327L440 331.5"/>
<path class="n" d="M415 321.6L419 326L431.5 327L434 326.5M419 326L420.8 335.8M431.5 327L433.5 331.5L454.7 338.6"/>
<path class="t" d="M422 331.5L429 332.2"/>
<path class="n" d="M416.2 319.5Q417 315.5 423 315.3Q430 315.5 432 319.5Q432.5 324 428 326.5"/>
<ellipse class="n" cx="423.6" cy="321.4" rx="2.1" ry="1.3"/>
<path class="n" d="M430 287Q439.5 292 447 288M430 287L427.5 299L436 303.5L447.5 299.5M436 303.5V312L441 315M427.5 299L424 310L431 314.5L436 312M441 292V300M444.5 291.5L446.5 308"/>
<path class="t" d="M431.5 290V297M438 293.5V301"/>
<path class="t" d="M433 283Q439.6 286.5 446.2 283"/>
<ellipse class="p" cx="439.6" cy="277" rx="6.6" ry="3"/>
<ellipse class="n" cx="439.6" cy="277.3" rx="4" ry="1.7"/>
<path class="ld" d="M389 264.5L424 288V321"/>
<path class="ld" d="M496 280V297H471V320"/>
<path class="p" d="M531.5 201.8L542 208Q544 211 541.2 213.2L529 207.8Z"/>
<path class="p" d="M524.5 198Q520 198.5 519.7 203.5Q520 209.5 525 211.2L529.5 210.8Q534 209 533.8 203.5Q533 198 528.5 197.4Z"/>
<ellipse class="n" cx="524.6" cy="204.6" rx="4.6" ry="6.6" transform="rotate(-15 524.6 204.6)"/>
<ellipse class="n" cx="524.2" cy="205" rx="1.7" ry="2.6" transform="rotate(-15 524.2 205)"/>
<path class="p" d="M494.3 247V259.5Q496.5 262 498.9 259.5V247Z"/>
<path class="p" d="M489.2 240L493 236L500.5 235.7L503.6 238.5V245.5L499.5 248.5L492.5 248.2L489.2 245.5Z"/>
<path class="n" d="M489.2 240L493.5 242L500 241.5L503.6 238.5M493.5 242V248M500 241.5V248.3"/>
<ellipse class="n" cx="491.3" cy="243.3" rx="1.3" ry="2.2"/>
<ellipse class="p" cx="556.2" cy="174.3" rx="13.2" ry="22.6" transform="rotate(19 556.2 174.3)"/>
<path d="M549.1 195.7L558.3 198.6L572.5 155.8L563.3 152.9Z" fill="#fff"/>
<path class="n" d="M549.1 195.7L558.3 198.6M572.5 155.8L563.3 152.9"/>
<path d="M549.6 196.7L558.3 199.6L572.5 154.8L563.8 151.9Z" fill="#fff"/>
<ellipse class="n" cx="558.8" cy="175.1" rx="13.2" ry="22.6" transform="rotate(19 558.8 175.1)"/>
<ellipse class="n" cx="561.2" cy="175.9" rx="13.2" ry="22.6" transform="rotate(19 561.2 175.9)"/>
<ellipse class="p" cx="565.4" cy="177.2" rx="13.2" ry="22.6" transform="rotate(19 565.4 177.2)"/>
<ellipse class="n" cx="566" cy="177.4" rx="10.6" ry="18.6" transform="rotate(19 566 177.4)"/>
<path class="p" d="M575.6 175L591.8 199.5Q596 196.5 600.5 198.5Q604.5 201.5 604 207.5Q603.5 212.5 597.5 214L584 218.6L563.3 196Z"/>
<path class="n" d="M569 193L587.8 214.8M577.5 185.6L593.5 208.2M587.8 214.8L593.5 208.2M584 218.6L587.8 214.8"/>
<path class="p" d="M562 172.5Q561 181 563.5 187L570 189.3L575.6 185.5V173Z"/>
<ellipse class="p" cx="570" cy="179.2" rx="5.6" ry="8.6" transform="rotate(19 570 179.2)"/>
<ellipse class="p" cx="570.3" cy="179.4" rx="3.2" ry="5.2" transform="rotate(19 570.3 179.4)"/>
<path class="n" d="M562 172.5Q563.5 168.5 567.5 170"/>
<ellipse class="p" cx="598.3" cy="206" rx="5.3" ry="7.2" transform="rotate(25 598.3 206)"/>
<ellipse class="n" cx="598.8" cy="206.4" rx="2.6" ry="3.8" transform="rotate(25 598.8 206.4)"/>
<path class="n" d="M591.8 199.5Q589.5 204 593.5 208.2"/>
<ellipse class="p" cx="553.6999999999999" cy="217.20000000000002" rx="6.3" ry="4.3" transform="rotate(-50 553.6999999999999 217.20000000000002)"/>
<ellipse class="p" cx="552.4" cy="216.3" rx="6.3" ry="4.3" transform="rotate(-50 552.4 216.3)"/>
<ellipse class="pd" cx="552.8" cy="216.5" rx="2.646" ry="1.8059999999999998" transform="rotate(-50 552.4 216.3)"/>
<ellipse class="p" cx="619.4" cy="207.70000000000002" rx="7.4" ry="4.4" transform="rotate(-54 619.4 207.70000000000002)"/>
<ellipse class="p" cx="618" cy="206.8" rx="7.4" ry="4.4" transform="rotate(-54 618 206.8)"/>
<ellipse class="pd" cx="618.4" cy="207.0" rx="3.108" ry="1.848" transform="rotate(-54 618 206.8)"/>
<ellipse class="p" cx="621.0" cy="257.29999999999995" rx="7.2" ry="4.4" transform="rotate(-52 621.0 257.29999999999995)"/>
<ellipse class="p" cx="619.6" cy="256.4" rx="7.2" ry="4.4" transform="rotate(-52 619.6 256.4)"/>
<ellipse class="pd" cx="620.0" cy="256.59999999999997" rx="3.024" ry="1.848" transform="rotate(-52 619.6 256.4)"/>
<path d="M666 86L706.5 112.3" fill="none" stroke="#222" stroke-width="4.6" stroke-linecap="butt" stroke-linejoin="round"/>
<path d="M666 86L706.5 112.3" fill="none" stroke="#fff" stroke-width="2.5999999999999996" stroke-linecap="butt" stroke-linejoin="round"/>
<path d="M706.3 112.6L719.7 117.6Q735 123.8 746.7 134.6Q757 145 762 157.5Q765.8 167.5 766.3 179.6" fill="none" stroke="#222" stroke-width="8.4" stroke-linecap="butt" stroke-linejoin="round"/>
<path d="M706.3 112.6L719.7 117.6Q735 123.8 746.7 134.6Q757 145 762 157.5Q765.8 167.5 766.3 179.6" fill="none" stroke="#fff" stroke-width="6.0" stroke-linecap="butt" stroke-linejoin="round"/>
<path d="M706.3 112.6L719.7 117.6Q735 123.8 746.7 134.6Q757 145 762 157.5Q765.8 167.5 766.3 179.6" fill="none" stroke="#d9d9d9" stroke-width="6"/>
<path d="M706.3 112.6L719.7 117.6Q735 123.8 746.7 134.6Q757 145 762 157.5Q765.8 167.5 766.3 179.6" fill="none" stroke="#555" stroke-width="5.2" stroke-dasharray="0.9 2.6"/>
<path d="M706.3 112.6L719.7 117.6Q735 123.8 746.7 134.6Q757 145 762 157.5Q765.8 167.5 766.3 179.6" fill="none" stroke="#e4e4e4" stroke-width="3.6"/>
<path d="M706.3 112.6L719.7 117.6Q735 123.8 746.7 134.6Q757 145 762 157.5Q765.8 167.5 766.3 179.6" fill="none" stroke="#666" stroke-width="1.6" stroke-dasharray="0.9 2.1" stroke-dashoffset="1.2"/>
<path d="M765 179V216" fill="none" stroke="#222" stroke-width="4.2" stroke-linecap="butt" stroke-linejoin="round"/>
<path d="M765 179V216" fill="none" stroke="#fff" stroke-width="2.2" stroke-linecap="butt" stroke-linejoin="round"/>
<path d="M665.5 125.8L690 139.8Q700 145.3 710 149Q724 155 731.5 163.5Q739 172.5 739.7 190V231" fill="none" stroke="#222" stroke-width="5" stroke-linecap="butt" stroke-linejoin="round"/>
<path d="M665.5 125.8L690 139.8Q700 145.3 710 149Q724 155 731.5 163.5Q739 172.5 739.7 190V231" fill="none" stroke="#fff" stroke-width="3.0" stroke-linecap="butt" stroke-linejoin="round"/>
<path d="M594 45.5L631 66" fill="none" stroke="#222" stroke-width="2.4"/>
<path d="M594 45.5L631 66" fill="none" stroke="#ccc" stroke-width="0.8" stroke-dasharray="0.9 1.1"/>
<path d="M593.5 83.5L627 103.5" fill="none" stroke="#222" stroke-width="2.4"/>
<path d="M593.5 83.5L627 103.5" fill="none" stroke="#ccc" stroke-width="0.8" stroke-dasharray="0.9 1.1"/>
<g transform="translate(630.3 65.6) rotate(30.5) scale(1.0)"><path class="p" d="M0 -3.4L2 -4.6H15.5L17 -3.4V3.4L15.5 4.6H2L0 3.4Z"/><path class="t" d="M2.5 -4.6V4.6M4.3 -4.6V4.6M6.1 -4.6V4.6M7.9 -4.6V4.6M9.7 -4.6V4.6M11.5 -4.6V4.6M13.3 -4.6V4.6M15.1 -4.6V4.6"/><path class="k" d="M2 0H15.5V4.4H2Z" opacity="0.6"/><path class="p" d="M17 -2H18V2H17Z"/><path class="p" d="M18 -3.2L19.5 -4.6H24L25.5 -3.2V3.2L24 4.6H19.5L18 3.2Z"/><path class="t" d="M18.5 -1.3H25M18.5 1.6H25"/><path class="k" d="M19.5 1.6H24.5V4.2H19.5Z" opacity="0.5"/><path class="p" d="M25.5 -1.8H27.5V1.8H25.5Z"/><path class="p" d="M27.5 -4.4L29.5 -6.4H36.5L39.5 -4.4V4.4L36.5 6.4H29.5L27.5 4.4Z"/><path class="t" d="M28 -2H39M28 2.2H39M33 -6.4V6.4"/><path class="k" d="M29.5 2.2H37.5V6H29.5Z" opacity="0.55"/><path class="p" d="M39.5 -1.8H50V1.8H39.5Z"/><path class="p" d="M49 -2.9H59.5V2.9H49Z"/><path class="t" d="M52 -2.9V2.9M55.5 -2.9V2.9"/></g>
<g transform="translate(626.3 103) rotate(30.5) scale(1.0)"><path class="p" d="M0 -3.4L2 -4.6H15.5L17 -3.4V3.4L15.5 4.6H2L0 3.4Z"/><path class="t" d="M2.5 -4.6V4.6M4.3 -4.6V4.6M6.1 -4.6V4.6M7.9 -4.6V4.6M9.7 -4.6V4.6M11.5 -4.6V4.6M13.3 -4.6V4.6M15.1 -4.6V4.6"/><path class="k" d="M2 0H15.5V4.4H2Z" opacity="0.6"/><path class="p" d="M17 -2H18V2H17Z"/><path class="p" d="M18 -3.2L19.5 -4.6H24L25.5 -3.2V3.2L24 4.6H19.5L18 3.2Z"/><path class="t" d="M18.5 -1.3H25M18.5 1.6H25"/><path class="k" d="M19.5 1.6H24.5V4.2H19.5Z" opacity="0.5"/><path class="p" d="M25.5 -1.8H27.5V1.8H25.5Z"/><path class="p" d="M27.5 -4.4L29.5 -6.4H36.5L39.5 -4.4V4.4L36.5 6.4H29.5L27.5 4.4Z"/><path class="t" d="M28 -2H39M28 2.2H39M33 -6.4V6.4"/><path class="k" d="M29.5 2.2H37.5V6H29.5Z" opacity="0.55"/><path class="p" d="M39.5 -1.8H50V1.8H39.5Z"/><path class="p" d="M49 -2.9H59.5V2.9H49Z"/><path class="t" d="M52 -2.9V2.9M55.5 -2.9V2.9"/></g>
<path class="p" d="M587.5 39Q587.5 37 589.5 37H593.0Q595.0 37 595.0 39V47.5Q595.0 49.5 593.0 49.5H589.5Q587.5 49.5 587.5 47.5Z"/>
<path class="t" d="M590.1 37.3V49.2"/>
<path class="p" d="M587 77.5Q587 75.5 589 75.5H592.5Q594.5 75.5 594.5 77.5V86.0Q594.5 88.0 592.5 88.0H589Q587 88.0 587 86.0Z"/>
<path class="t" d="M589.6 75.8V87.7"/>
<path class="p" d="M761.3 212.5H767.7V221.5L766.5 226.5H762.5L761.3 221.5Z"/>
<path class="t" d="M761.3 215.5H767.7M761.3 221.5H767.7M764.5 215.5V221.5"/>
<path class="p" d="M762.6 226.5V234.5H766.4V226.5"/>
<path class="p" d="M758.9 235.5L760.5 233.5H768.5L770.1 235.5V242.0L768.5 244.5H760.5L758.9 242.0Z"/>
<path class="t" d="M758.9 236.7H770.1M758.9 241.3H770.1M762.7 236.7V241.3M766.5 236.7V241.3"/>
<path class="k" d="M759.5 237.0H762.7V241.0H759.5Z" opacity="0.45"/>
<path class="p" d="M762.6 244.5V249.5H766.4V244.5"/>
<path class="p" d="M758.1 250.7L760.0 248.5H769.0L770.9 250.7V257.5L769.0 260.0H760.0L758.1 257.5Z"/>
<path class="t" d="M758.1 251.9H770.9M758.1 256.5H770.9M762.5 251.9V256.5M766.7 251.9V256.5"/>
<path class="k" d="M758.7 252.1H770.3V256.1H758.7Z" opacity="0.5"/>
<path d="M764.5 260.0V295" fill="none" stroke="#222" stroke-width="3"/>
<path d="M764.5 260.0V295" fill="none" stroke="#ddd" stroke-width="1.2" stroke-dasharray="0.8 1.1"/>
<path class="p" d="M736.5999999999999 230H743.0V239L741.8 244H737.8L736.5999999999999 239Z"/>
<path class="t" d="M736.5999999999999 233H743.0M736.5999999999999 239H743.0M739.8 233V239"/>
<path class="p" d="M737.9 244V248.5H741.6999999999999V244"/>
<path class="p" d="M734.1999999999999 249.5L735.8 247.5H743.8L745.4 249.5V256.0L743.8 258.5H735.8L734.1999999999999 256.0Z"/>
<path class="t" d="M734.1999999999999 250.7H745.4M734.1999999999999 255.3H745.4M738.0 250.7V255.3M741.8 250.7V255.3"/>
<path class="k" d="M734.8 251.0H738.0V255.0H734.8Z" opacity="0.45"/>
<path class="p" d="M737.9 258.5V263.5H741.6999999999999V258.5"/>
<path class="p" d="M733.4 264.7L735.3 262.5H744.3L746.1999999999999 264.7V271.5L744.3 274.0H735.3L733.4 271.5Z"/>
<path class="t" d="M733.4 265.9H746.1999999999999M733.4 270.5H746.1999999999999M737.8 265.9V270.5M742.0 265.9V270.5"/>
<path class="k" d="M734.0 266.1H745.5999999999999V270.1H734.0Z" opacity="0.5"/>
<path d="M739.8 274.0V307" fill="none" stroke="#222" stroke-width="3"/>
<path d="M739.8 274.0V307" fill="none" stroke="#ddd" stroke-width="1.2" stroke-dasharray="0.8 1.1"/>
<g transform="translate(765 298.5) rotate(25)"><path class="p" d="M-5 -3H4Q6 0 4 3.5H-5Q-6.8 0 -5 -3Z"/><ellipse class="n" cx="-4.6" cy="0.2" rx="1.3" ry="3"/></g>
<g transform="translate(740.3 310.5) rotate(25)"><path class="p" d="M-5 -3H4Q6 0 4 3.5H-5Q-6.8 0 -5 -3Z"/><ellipse class="n" cx="-4.6" cy="0.2" rx="1.3" ry="3"/></g>
<path d="M17.8 414L20.4 400.8L23.4 404.2L40.8 393.8L45.2 405L30.4 414.2L30.8 416.6Z" fill="#111" stroke="#111" stroke-width="0.8"/>
<text transform="translate(46.3 402.6) rotate(-32) scale(0.84 1)" font-size="15" style="font-weight:bold;stroke-width:0.9;fill:#111;stroke:#111">FR</text>
<circle cx="63.6" cy="389.8" r="1.7" fill="#111"/>
</svg>
</body></html>
